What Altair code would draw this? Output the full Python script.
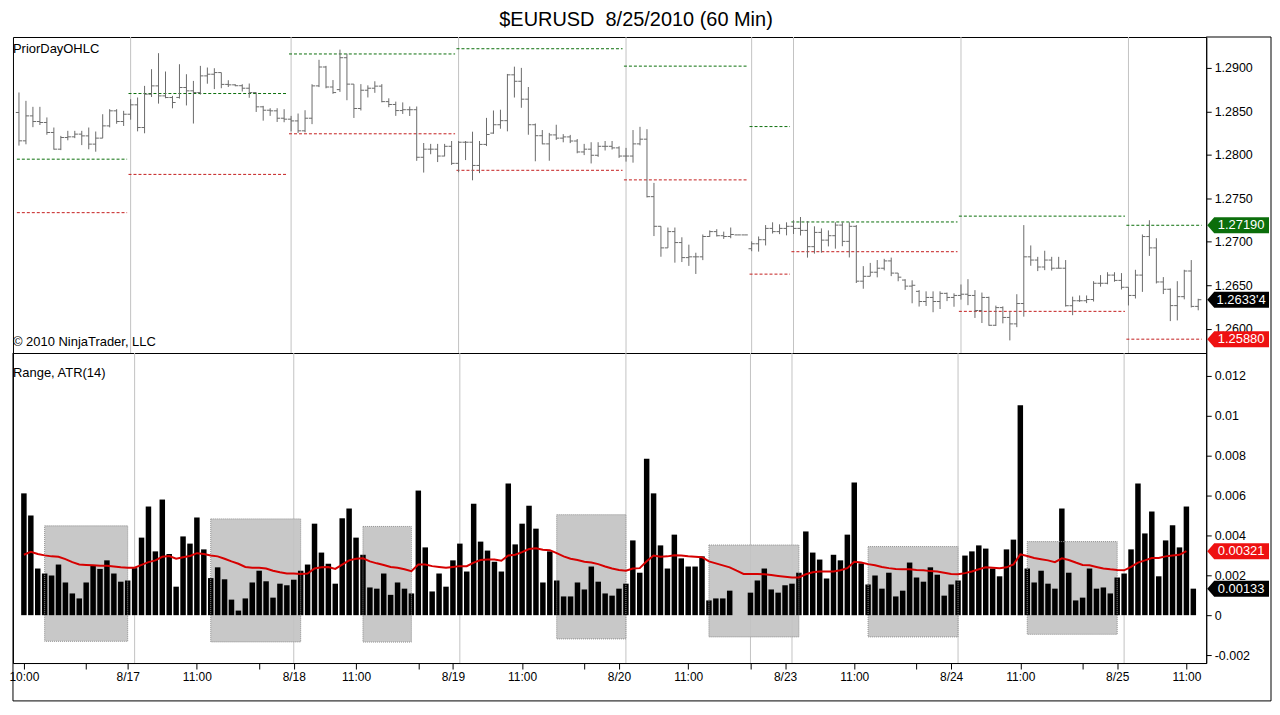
import altair as alt
import pandas as pd

# ---------------- data ----------------
high = [1.28717,1.28621,1.28552,1.28552,1.28430,1.28314,1.28218,1.28276,1.28276,1.28276,
        1.28314,1.28268,1.28467,1.28525,1.28525,1.28506,1.28640,1.28659,1.28793,1.28985,
        1.29169,1.28958,1.28678,1.29042,1.28927,1.28850,1.29023,1.29004,1.28996,1.28946,
        1.28858,1.28812,1.28812,1.28820,1.28716,1.28563,1.28536,1.28536,1.28525,1.28448,
        1.28475,1.28513,1.28812,1.29093,1.29023,1.28860,1.29210,1.29163,1.28813,1.28813,
        1.28799,1.28846,1.28813,1.28650,1.28612,1.28603,1.28556,1.28556,1.28136,1.28126,
        1.28126,1.28126,1.28159,1.28159,1.28159,1.28266,1.28159,1.28425,1.28510,1.28519,
        1.28930,1.29014,1.29000,1.28780,1.28360,1.28285,1.28252,1.28346,1.28238,1.28229,
        1.28182,1.28126,1.28145,1.28145,1.28159,1.28159,1.28098,1.28080,1.28285,1.28322,
        1.28295,1.27677,1.27178,1.27164,1.27164,1.27052,1.26967,1.26874,1.27084,1.27131,
        1.27145,1.27117,1.27164,1.27079,1.27079,1.27005,1.27061,1.27192,1.27224,1.27201,
        1.27224,1.27248,1.27285,1.27238,1.27178,1.27154,1.27131,1.27224,1.27224,1.27224,
        1.27192,1.26720,1.26757,1.26790,1.26804,1.26818,1.26640,1.26570,1.26557,1.26444,
        1.26430,1.26430,1.26430,1.26416,1.26407,1.26509,1.26570,1.26444,1.26416,1.26369,
        1.26266,1.26257,1.26196,1.26397,1.27192,1.26958,1.26827,1.26897,1.26827,1.26827,
        1.26790,1.26369,1.26383,1.26383,1.26547,1.26617,1.26650,1.26650,1.26640,1.26477,
        1.26678,1.27084,1.27248,1.27041,1.26594,1.26463,1.26547,1.26678,1.26790,1.26345]
low = [1.28106,1.28121,1.28318,1.28343,1.28231,1.28060,1.28054,1.28167,1.28192,1.28112,
       1.28064,1.28036,1.28192,1.28316,1.28357,1.28332,1.28404,1.28270,1.28248,1.28665,
       1.28589,1.28651,1.28535,1.28647,1.28568,1.28360,1.28693,1.28818,1.28756,1.28766,
       1.28780,1.28789,1.28728,1.28656,1.28493,1.28393,1.28448,1.28378,1.28375,1.28270,
       1.28252,1.28259,1.28353,1.28779,1.28765,1.28702,1.28724,1.28628,1.28424,1.28510,
       1.28660,1.28713,1.28604,1.28548,1.28448,1.28470,1.28447,1.27931,1.27796,1.28007,
       1.27917,1.27983,1.27884,1.27800,1.27940,1.27707,1.27790,1.28101,1.28242,1.28300,
       1.28270,1.28659,1.28541,1.28231,1.27926,1.28121,1.27932,1.28172,1.28144,1.28135,
       1.28018,1.27997,1.27901,1.27977,1.28050,1.28061,1.27965,1.27922,1.27910,1.28109,
       1.27510,1.27066,1.26828,1.26930,1.26760,1.26767,1.26723,1.26630,1.26789,1.27057,
       1.27061,1.27033,1.27041,1.27079,1.27079,1.26892,1.26887,1.26958,1.27095,1.27088,
       1.27074,1.27090,1.27072,1.26818,1.26864,1.26875,1.26947,1.26921,1.26949,1.26820,
       1.26526,1.26460,1.26603,1.26591,1.26671,1.26605,1.26546,1.26447,1.26293,1.26255,
       1.26262,1.26190,1.26227,1.26318,1.26253,1.26335,1.26271,1.26124,1.26066,1.26035,
       1.26032,1.26062,1.25866,1.26018,1.26139,1.26724,1.26663,1.26674,1.26669,1.26694,
       1.26255,1.26156,1.26309,1.26295,1.26313,1.26484,1.26511,1.26541,1.26451,1.26268,
       1.26348,1.26424,1.26838,1.26521,1.26399,1.26088,1.26096,1.26338,1.26245,1.26212]
open_ = [1.28487,1.28161,1.28448,1.28383,1.28372,1.28257,1.28065,1.28199,1.28207,1.28238,
         1.28218,1.28123,1.28192,1.28333,1.28506,1.28383,1.28467,1.28575,1.28314,1.28697,
         1.28793,1.28678,1.28659,1.28660,1.28774,1.28736,1.28716,1.28908,1.28927,1.28946,
         1.28810,1.28805,1.28795,1.28766,1.28716,1.28552,1.28513,1.28506,1.28421,1.28410,
         1.28390,1.28276,1.28421,1.28793,1.29010,1.28780,1.28750,1.29117,1.28813,1.28533,
         1.28743,1.28766,1.28790,1.28612,1.28579,1.28509,1.28519,1.28519,1.27972,1.28065,
         1.28065,1.27986,1.28098,1.27902,1.28145,1.28145,1.27878,1.28120,1.28250,1.28346,
         1.28393,1.28920,1.28846,1.28640,1.28346,1.28220,1.28126,1.28229,1.28192,1.28206,
         1.28159,1.28033,1.28065,1.27995,1.28098,1.28098,1.28080,1.27986,1.27986,1.28126,
         1.28180,1.27519,1.27178,1.26930,1.27117,1.26991,1.26818,1.26827,1.26827,1.27061,
         1.27117,1.27070,1.27061,1.27079,1.27079,1.26920,1.26977,1.27024,1.27154,1.27117,
         1.27154,1.27178,1.27154,1.27131,1.26944,1.27108,1.27019,1.27070,1.27192,1.27005,
         1.27178,1.26547,1.26603,1.26650,1.26696,1.26780,1.26640,1.26560,1.26490,1.26430,
         1.26313,1.26360,1.26313,1.26407,1.26360,1.26383,1.26397,1.26383,1.26210,1.26360,
         1.26040,1.26243,1.26130,1.26056,1.26290,1.26827,1.26790,1.26710,1.26790,1.26696,
         1.26696,1.26265,1.26322,1.26322,1.26336,1.26523,1.26523,1.26617,1.26556,1.26477,
         1.26383,1.26617,1.27060,1.26930,1.26538,1.26454,1.26266,1.26369,1.26664,1.26257]
close = [1.28161,1.28448,1.28383,1.28372,1.28257,1.28065,1.28199,1.28207,1.28238,1.28218,
         1.28123,1.28192,1.28333,1.28506,1.28383,1.28467,1.28575,1.28314,1.28697,1.28793,
         1.28678,1.28659,1.28602,1.28774,1.28736,1.28716,1.28908,1.28927,1.28946,1.28810,
         1.28805,1.28795,1.28766,1.28716,1.28552,1.28513,1.28506,1.28421,1.28410,1.28390,
         1.28276,1.28421,1.28793,1.29010,1.28780,1.28716,1.29117,1.28813,1.28533,1.28743,
         1.28766,1.28790,1.28612,1.28579,1.28509,1.28519,1.28519,1.27972,1.28065,1.28065,
         1.27986,1.28098,1.27902,1.28145,1.28145,1.27878,1.28120,1.28234,1.28346,1.28393,
         1.28920,1.28846,1.28640,1.28346,1.28220,1.28126,1.28229,1.28192,1.28206,1.28159,
         1.28033,1.28065,1.27995,1.28098,1.28098,1.28080,1.27986,1.27986,1.28126,1.28180,
         1.27519,1.27178,1.26930,1.27117,1.26991,1.26818,1.26827,1.26827,1.27061,1.27117,
         1.27070,1.27061,1.27084,1.27079,1.27079,1.26977,1.27024,1.27154,1.27117,1.27154,
         1.27178,1.27154,1.27131,1.26944,1.27108,1.27019,1.27070,1.27192,1.27005,1.27178,
         1.26547,1.26603,1.26650,1.26696,1.26780,1.26640,1.26593,1.26490,1.26500,1.26313,
         1.26360,1.26313,1.26407,1.26360,1.26383,1.26397,1.26383,1.26210,1.26360,1.26040,
         1.26243,1.26130,1.26056,1.26290,1.26827,1.26790,1.26710,1.26790,1.26696,1.26696,
         1.26265,1.26322,1.26322,1.26336,1.26523,1.26523,1.26617,1.26556,1.26477,1.26383,
         1.26617,1.27060,1.26930,1.26538,1.26454,1.26266,1.26369,1.26664,1.26257,1.26334]
rng = [0.00611,0.00500,0.00234,0.00209,0.00199,0.00254,0.00164,0.00109,0.00084,0.00164,
       0.00250,0.00232,0.00275,0.00209,0.00168,0.00174,0.00236,0.00389,0.00545,0.00320,
       0.00580,0.00307,0.00143,0.00395,0.00359,0.00490,0.00330,0.00186,0.00240,0.00180,
       0.00078,0.00023,0.00084,0.00164,0.00223,0.00170,0.00088,0.00158,0.00150,0.00178,
       0.00223,0.00254,0.00459,0.00314,0.00258,0.00158,0.00486,0.00535,0.00389,0.00303,
       0.00139,0.00133,0.00209,0.00102,0.00164,0.00133,0.00109,0.00625,0.00340,0.00119,
       0.00209,0.00143,0.00275,0.00359,0.00219,0.00559,0.00369,0.00324,0.00268,0.00219,
       0.00660,0.00355,0.00459,0.00549,0.00434,0.00164,0.00320,0.00174,0.00094,0.00094,
       0.00164,0.00129,0.00244,0.00168,0.00109,0.00098,0.00133,0.00158,0.00375,0.00213,
       0.00785,0.00611,0.00350,0.00234,0.00404,0.00285,0.00244,0.00244,0.00295,0.00074,
       0.00084,0.00084,0.00123,0.0,0.0,0.00113,0.00174,0.00234,0.00129,0.00113,
       0.00150,0.00158,0.00213,0.00420,0.00314,0.00279,0.00184,0.00303,0.00275,0.00404,
       0.00666,0.00260,0.00154,0.00199,0.00133,0.00213,0.00094,0.00123,0.00264,0.00189,
       0.00168,0.00240,0.00203,0.00098,0.00154,0.00174,0.00299,0.00320,0.00350,0.00334,
       0.00234,0.00195,0.00330,0.00379,0.01053,0.00234,0.00164,0.00223,0.00158,0.00133,
       0.00535,0.00213,0.00074,0.00088,0.00234,0.00133,0.00139,0.00109,0.00189,0.00209,
       0.00330,0.00660,0.00410,0.00520,0.00195,0.00375,0.00451,0.00340,0.00545,0.00133]
atr = [0.00303,0.00318,0.00307,0.00300,0.00295,0.00293,0.00281,0.00266,0.00254,0.00252,
       0.00250,0.00248,0.00248,0.00244,0.00240,0.00238,0.00238,0.00252,0.00266,0.00275,
       0.00293,0.00297,0.00283,0.00291,0.00297,0.00311,0.00307,0.00299,0.00295,0.00283,
       0.00270,0.00258,0.00242,0.00238,0.00238,0.00234,0.00223,0.00215,0.00209,0.00209,
       0.00207,0.00209,0.00234,0.00240,0.00242,0.00232,0.00254,0.00275,0.00283,0.00285,
       0.00270,0.00260,0.00252,0.00242,0.00238,0.00230,0.00221,0.00254,0.00254,0.00246,
       0.00242,0.00238,0.00242,0.00246,0.00246,0.00264,0.00277,0.00279,0.00279,0.00273,
       0.00299,0.00303,0.00316,0.00332,0.00336,0.00328,0.00326,0.00311,0.00295,0.00283,
       0.00277,0.00268,0.00264,0.00256,0.00244,0.00234,0.00227,0.00223,0.00234,0.00236,
       0.00270,0.00299,0.00293,0.00295,0.00301,0.00299,0.00295,0.00293,0.00291,0.00270,
       0.00260,0.00250,0.00240,0.00223,0.00207,0.00207,0.00207,0.00205,0.00201,0.00197,
       0.00193,0.00189,0.00189,0.00205,0.00215,0.00219,0.00219,0.00219,0.00225,0.00236,
       0.00268,0.00264,0.00256,0.00250,0.00242,0.00236,0.00232,0.00230,0.00230,0.00227,
       0.00225,0.00221,0.00219,0.00213,0.00207,0.00205,0.00211,0.00219,0.00230,0.00240,
       0.00238,0.00236,0.00240,0.00254,0.00305,0.00297,0.00287,0.00281,0.00275,0.00266,
       0.00285,0.00277,0.00264,0.00252,0.00250,0.00242,0.00234,0.00230,0.00227,0.00225,
       0.00242,0.00264,0.00275,0.00287,0.00287,0.00295,0.00299,0.00303,0.00321,None]

# session separators (bar index of first bar of each new session)
sep_bars = [16, 39, 63, 87, 105, 111, 135, 159]
# prior-day high / low segments per session
sess_start = [0, 16, 39, 63, 87, 105, 111, 135, 159]
sess_end = [15, 38, 62, 86, 104, 110, 134, 158, 169]
pd_high = [1.27950, 1.28705, 1.29160, 1.29220, 1.29020, 1.28325, 1.27228, 1.27295, 1.27190]
pd_low = [1.27335, 1.27775, 1.28242, 1.27822, 1.27712, 1.26628, 1.26886, 1.26200, 1.25880]

# grey boxes in the lower panel
rect_start = [3, 27, 49, 77, 99, 122, 145]
rect_end = [15, 40, 56, 87, 112, 135, 158]
rect_top = [0.00448, 0.00483, 0.00445, 0.00504, 0.00352, 0.00344, 0.00369]
rect_bot = [-0.00131, -0.00134, -0.00135, -0.00119, -0.00109, -0.00109, -0.00096]

# time axis
tick_pos = [0, 9, 15, 25, 34, 39, 48, 57, 62, 72, 81, 86, 96, 105, 110, 120, 129, 134, 144, 153, 158, 168]
tick_lab = ["10:00", "", "8/17", "11:00", "", "8/18", "11:00", "", "8/19", "11:00", "", "8/20",
            "11:00", "", "8/23", "11:00", "", "8/24", "11:00", "", "8/25", "11:00"]
price_ticks = [1.26, 1.265, 1.27, 1.275, 1.28, 1.285, 1.29]
range_ticks = [-0.002, 0, 0.002, 0.004, 0.006, 0.008, 0.01, 0.012]

title_text = "$EURUSD\u00a0\u00a08/25/2010 (60 Min)"

# ---------------- build ----------------
FONT = "Liberation Sans"
BAR_C = "#6a6a6a"
GREEN = "#0b6e0b"
RED = "#c41e1e"
W, H_TOP, H_BOT = 1197, 317, 311

df = pd.DataFrame({"i": list(range(len(high))), "high": high, "low": low,
                   "open": open_, "close": close, "rng": rng, "atr": atr})
seps = pd.DataFrame({"i": sep_bars})
sess = pd.DataFrame({"s": [a - 0.3 for a in sess_start], "e": [b + 0.5 for b in sess_end],
                     "hi": pd_high, "lo": pd_low})
rects = pd.DataFrame({"s": rect_start, "e": rect_end, "t": rect_top, "b": rect_bot})

xs = alt.Scale(domain=[-0.857, 170.143], nice=False, zero=False)
ys_top = alt.Scale(domain=[1.25721, 1.29355], nice=False, zero=False)
ys_bot = alt.Scale(domain=[-0.0024, 0.01315], nice=False, zero=False)

AX = dict(title=None, grid=False, domainColor="black", tickColor="black",
          labelFont=FONT, labelColor="black")
yax_top = alt.Axis(orient="right", values=price_ticks, format=".4f", tickSize=5, labelPadding=3,
                   labelFontSize=12.5, **AX)
yax_bot = alt.Axis(orient="right", values=range_ticks, labelExpr="toString(datum.value)",
                   tickSize=5, labelPadding=3, labelFontSize=12.5, **AX)
lab_js = "[" + ",".join("'%s'" % s for s in tick_lab) + "]"
pos_js = "[" + ",".join(str(p) for p in tick_pos) + "]"
xax_bot = alt.Axis(values=tick_pos, labelExpr=f"{lab_js}[indexof({pos_js}, datum.value)]",
                   tickSize=6, labelPadding=3, labelFlush=10, labelFontSize=12, **AX)

MARKER = "M-1,0L-0.774,-0.258L1,-0.258L1,0.258L-0.774,0.258Z"


def marker(val, color, label, ys):
    pt = alt.Chart(pd.DataFrame({"v": [val]})).mark_point(
        shape=MARKER, size=3844, filled=True, fill=color, opacity=1, strokeWidth=0
    ).encode(x=alt.value(1229), y=alt.Y("v:Q", scale=ys))
    tx = alt.Chart(pd.DataFrame({"v": [val]})).mark_text(
        color="white", fontSize=13, font=FONT, align="center", baseline="middle", dx=3
    ).encode(x=alt.value(1229), y=alt.Y("v:Q", scale=ys), text=alt.value(label))
    return pt + tx


last_close = close[-1]
s = f"{last_close:.5f}"
close_label = s[:-1] + "'" + s[-1]

base = alt.Chart(df)

# ---- top panel ----
t_sep = alt.Chart(seps).mark_rule(color="#c3c3c3").encode(x=alt.X("i:Q", scale=xs, axis=None))
t_hi = alt.Chart(sess).mark_rule(color=GREEN, strokeDash=[3, 2]).encode(
    x=alt.X("s:Q", scale=xs, axis=None), x2="e:Q", y=alt.Y("hi:Q", scale=ys_top, axis=yax_top))
t_lo = alt.Chart(sess).mark_rule(color=RED, strokeDash=[3, 2]).encode(
    x=alt.X("s:Q", scale=xs, axis=None), x2="e:Q", y=alt.Y("lo:Q", scale=ys_top, axis=yax_top))
t_hl = base.mark_rule(color=BAR_C).encode(
    x=alt.X("i:Q", scale=xs, axis=None), y=alt.Y("high:Q", scale=ys_top, axis=yax_top), y2="low:Q")
t_op = base.transform_calculate(x0="datum.i - 0.45").mark_rule(color=BAR_C).encode(
    x=alt.X("x0:Q", scale=xs, axis=None), x2="i:Q", y=alt.Y("open:Q", scale=ys_top, axis=yax_top))
t_cl = base.transform_calculate(x1="datum.i + 0.45").mark_rule(color=BAR_C).encode(
    x=alt.X("i:Q", scale=xs, axis=None), x2="x1:Q", y=alt.Y("close:Q", scale=ys_top, axis=yax_top))
t_name = alt.Chart(df.head(1)).mark_text(align="left", baseline="middle", fontSize=13, font=FONT,
                                        color="black").encode(
    x=alt.value(0), y=alt.value(12), text=alt.value("PriorDayOHLC"))
t_copy = alt.Chart(df.head(1)).mark_text(align="left", baseline="middle", fontSize=13, font=FONT,
                                        color="black").encode(
    x=alt.value(0), y=alt.value(306), text=alt.value("\u00a9 2010 NinjaTrader, LLC"))
t_title = alt.Chart(df.head(1)).mark_text(align="center", baseline="top", fontSize=20, font=FONT,
                                         color="black").encode(
    x=alt.value(625), y=alt.value(-27), text=alt.value(title_text))
t_frame1 = alt.Chart(df.head(1)).mark_rule(color="black").encode(
    x=alt.value(W), x2=alt.value(1262), y=alt.value(0))
t_frame2 = alt.Chart(df.head(1)).mark_rule(color="black").encode(
    x=alt.value(1262), y=alt.value(0), y2=alt.value(H_TOP))

top = alt.layer(
    t_sep, t_hi, t_lo, t_hl, t_op, t_cl, t_name, t_copy, t_title, t_frame1, t_frame2,
    marker(pd_high[-1], GREEN, f"{pd_high[-1]:.5f}", ys_top),
    marker(last_close, "black", close_label, ys_top),
    marker(pd_low[-1], "#ee1111", f"{pd_low[-1]:.5f}", ys_top),
).properties(width=W, height=H_TOP)

# ---- bottom panel ----
b_rect = alt.Chart(rects).mark_rect(color="#c8c8c8").encode(
    x=alt.X("s:Q", scale=xs, axis=xax_bot), x2="e:Q", y=alt.Y("t:Q", scale=ys_bot, axis=yax_bot), y2="b:Q")
b_sep = alt.Chart(seps).mark_rule(color="#c3c3c3").encode(x=alt.X("i:Q", scale=xs, axis=xax_bot))
b_bar = base.mark_bar(size=5.5, color="black").encode(
    x=alt.X("i:Q", scale=xs, axis=xax_bot), y=alt.Y("rng:Q", scale=ys_bot, axis=yax_bot), y2=alt.datum(0))
b_rout = alt.Chart(rects).mark_rect(filled=False, stroke="#8f8f8f", strokeWidth=1, strokeDash=[1, 1]).encode(
    x=alt.X("s:Q", scale=xs, axis=xax_bot), x2="e:Q", y=alt.Y("t:Q", scale=ys_bot, axis=yax_bot), y2="b:Q")
b_atr = base.mark_line(color="#d60000", strokeWidth=2).encode(
    x=alt.X("i:Q", scale=xs, axis=xax_bot), y=alt.Y("atr:Q", scale=ys_bot, axis=yax_bot))
b_name = alt.Chart(df.head(1)).mark_text(align="left", baseline="middle", fontSize=13, font=FONT,
                                        color="black").encode(
    x=alt.value(0), y=alt.value(20), text=alt.value("Range, ATR(14)"))
b_fr1 = alt.Chart(df.head(1)).mark_rule(color="black").encode(
    x=alt.value(1262), y=alt.value(0), y2=alt.value(349))
b_fr2 = alt.Chart(df.head(1)).mark_rule(color="black").encode(
    x=alt.value(0), x2=alt.value(1262), y=alt.value(349))
b_fr3 = alt.Chart(df.head(1)).mark_rule(color="black").encode(
    x=alt.value(0), y=alt.value(0), y2=alt.value(349))

atr_last = [a for a in atr if a is not None][-1]
bottom = alt.layer(
    b_rect, b_sep, b_bar, b_rout, b_atr, b_name, b_fr1, b_fr2, b_fr3,
    marker(atr_last, "#ee1111", f"{atr_last:.5f}", ys_bot),
    marker(rng[-1], "black", f"{rng[-1]:.5f}", ys_bot),
).properties(width=W, height=H_BOT)

chart = alt.vconcat(top, bottom, spacing=0, bounds="flush").properties(
    padding={"left": 0, "top": 0, "right": 0, "bottom": 0}, background="white"
).configure_view(stroke="black", strokeWidth=1)

chart.save("out.html", embed_options={"renderer": "svg", "actions": False})
